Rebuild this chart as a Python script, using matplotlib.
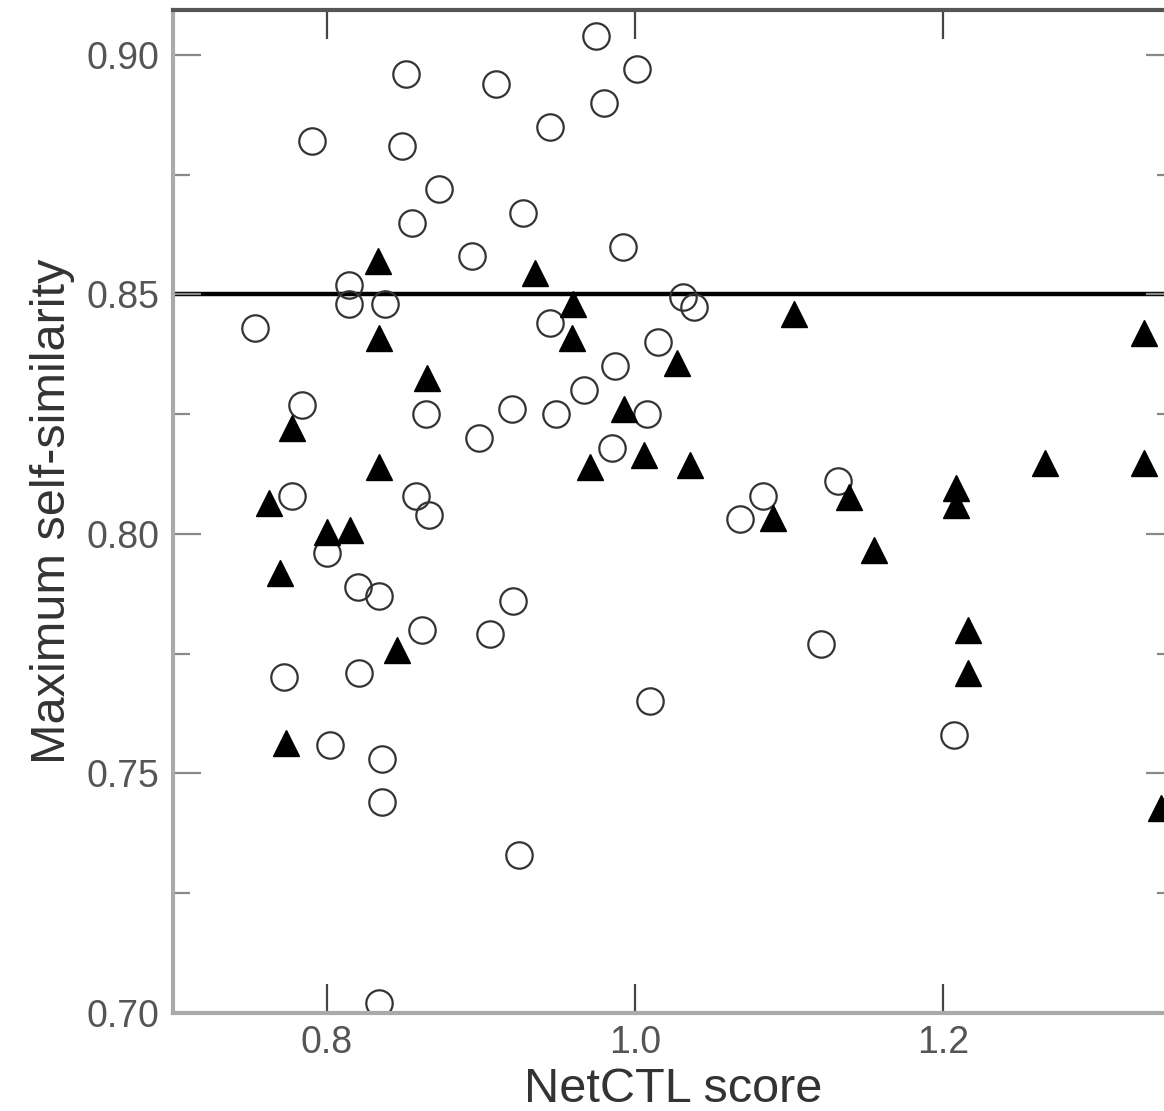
import matplotlib.pyplot as plt
from matplotlib.ticker import MultipleLocator

plt.rcParams['font.family'] = ['Liberation Sans', 'DejaVu Sans']

# open circles
circle_x = [0.851, 0.975, 1.001, 0.910, 0.980, 0.790, 0.849, 0.945, 0.873, 0.855,
            0.927, 0.992, 0.894, 0.814, 0.814, 0.838, 0.753, 0.945, 1.031, 1.038,
            1.015, 0.987, 0.967, 0.949, 0.920, 0.899, 0.864, 0.784, 1.008, 0.985,
            0.777, 0.858, 0.866, 0.800, 0.820, 0.834, 0.921, 0.862, 0.906, 0.821,
            0.772, 0.802, 0.836, 0.836, 0.925, 0.834, 1.010, 1.068, 1.083, 1.132,
            1.121, 1.207]
circle_y = [0.896, 0.904, 0.897, 0.894, 0.890, 0.882, 0.881, 0.885, 0.872, 0.865,
            0.867, 0.860, 0.858, 0.852, 0.848, 0.848, 0.843, 0.844, 0.8495, 0.8474,
            0.840, 0.835, 0.830, 0.825, 0.826, 0.820, 0.825, 0.827, 0.825, 0.818,
            0.808, 0.808, 0.804, 0.796, 0.789, 0.787, 0.786, 0.780, 0.779, 0.771,
            0.770, 0.756, 0.753, 0.744, 0.733, 0.702, 0.765, 0.803, 0.808, 0.811,
            0.777, 0.758]

# filled triangles
tri_x = [0.833, 0.935, 0.960, 0.834, 0.959, 1.103, 1.3305, 0.865, 1.027, 0.777,
         0.9926, 0.834, 0.9706, 1.0056, 1.0354, 1.2663, 1.3305, 0.7624, 0.800, 0.815,
         0.7695, 0.8454, 0.7734, 1.0899, 1.139, 1.1554, 1.2086, 1.2086, 1.2163, 1.2163,
         1.3415]
tri_y = [0.857, 0.8545, 0.848, 0.841, 0.841, 0.846, 0.842, 0.8326, 0.8357, 0.822,
         0.826, 0.814, 0.814, 0.8165, 0.8144, 0.8148, 0.8148, 0.8065, 0.8004, 0.8008,
         0.7918, 0.7758, 0.7563, 0.8033, 0.8077, 0.7966, 0.8096, 0.8060, 0.7799, 0.7710,
         0.7428]

threshold = 0.85

fig = plt.figure(figsize=(11.64, 11.11), dpi=100)
ax = fig.add_axes([0.1486, 0.0885, 0.860, 0.9025])

ax.axhline(threshold, color='black', lw=3.2, zorder=1)
ax.plot(circle_x, circle_y, 'o', ms=19, mfc='none', mec='#333333', mew=1.6, zorder=2)
ax.plot(tri_x, tri_y, '^', ms=19, color='black', zorder=3)

ax.set_xlim(0.70, 1.35)
ax.set_ylim(0.70, 0.9094)
ax.xaxis.set_major_locator(MultipleLocator(0.2))
ax.yaxis.set_major_locator(MultipleLocator(0.05))
ax.yaxis.set_minor_locator(MultipleLocator(0.025))
ax.set_yticks([0.70, 0.75, 0.80, 0.85, 0.90])
ax.set_yticklabels(["0.70", "0.75", "0.80", "0.85", "0.90"])
ax.set_xticks([0.8, 1.0, 1.2])
ax.set_xticklabels(["0.8", "1.0", "1.2"])

ax.tick_params(axis='both', which='both', direction='in', top=True, right=True)
ax.tick_params(axis='x', which='major', length=21, width=1.6, color='#444444',
               labelsize=27, labelcolor='#555555', pad=9)
ax.tick_params(axis='y', which='major', length=20, width=1.6, color='#888888',
               labelsize=27, labelcolor='#555555', pad=10)
ax.tick_params(axis='y', which='minor', length=12, width=1.6, color='#888888')

for side in ['left', 'bottom']:
    ax.spines[side].set_color('#aaaaaa')
    ax.spines[side].set_linewidth(3)
ax.spines['top'].set_color('#555555')
ax.spines['top'].set_linewidth(3)
ax.spines['right'].set_color('#555555')

ax.set_xlabel("NetCTL score", fontsize=35, color='#333333', labelpad=4)
ax.set_ylabel("Maximum self-similarity", fontsize=35, color='#333333', labelpad=8)

plt.savefig("out.png", dpi=100)
